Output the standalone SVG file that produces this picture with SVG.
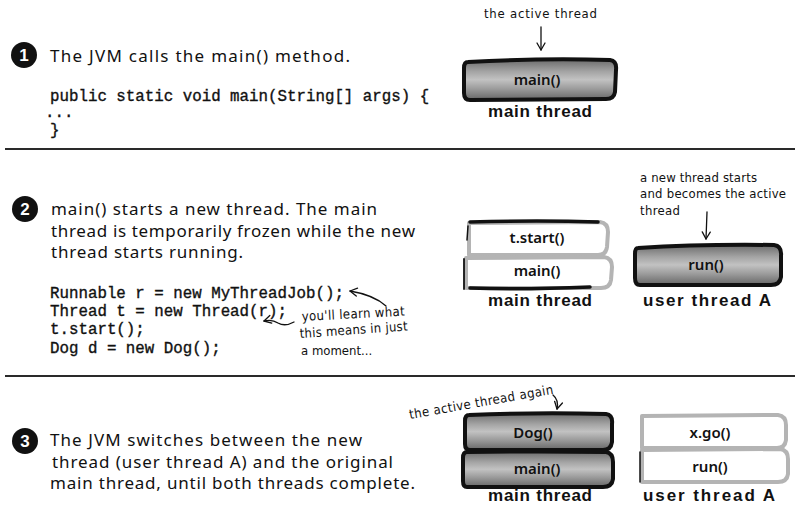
<svg xmlns="http://www.w3.org/2000/svg" width="798" height="516" viewBox="0 0 798 516">
<style>
.body{font-family:"Noto Sans","Open Sans",sans-serif;font-size:17px;fill:#111}
.code{font-family:"Liberation Mono","Courier New",monospace;font-size:15.8px;fill:#111;stroke:#111;stroke-width:0.35}
.note{font-family:"Liberation Sans Narrow","DejaVu Sans Condensed","Liberation Sans",sans-serif;font-size:13px;fill:#111}
.cap{font-family:"Liberation Sans",Arial,sans-serif;font-weight:bold;font-size:17px;fill:#111;text-anchor:middle}
.lbl{font-family:"Noto Sans","Open Sans",sans-serif;font-size:15px;font-weight:600;fill:#111;text-anchor:middle}
.num{font-family:"Liberation Sans",Arial,sans-serif;font-weight:bold;font-size:17px;fill:#fff;text-anchor:middle}
.gbox{fill:url(#gray);stroke:#111;stroke-width:4;stroke-linejoin:round}
.wbox{fill:#fff;stroke:#b4b4b4;stroke-width:4;stroke-linejoin:round}
.ink{fill:none;stroke:#111;stroke-linecap:round}
.arrow{fill:none;stroke:#111;stroke-width:1.3;stroke-linecap:round}
.sep{stroke:#2a2a2a;stroke-width:2}
</style>
<defs>
<linearGradient id="gray" x1="0" y1="0" x2="0" y2="1">
<stop offset="0" stop-color="#6a6a6a"/>
<stop offset="0.3" stop-color="#a4a4a4"/>
<stop offset="0.5" stop-color="#c2c2c2"/>
<stop offset="0.72" stop-color="#9c9c9c"/>
<stop offset="1" stop-color="#666"/>
</linearGradient>
<marker id="head" markerWidth="10" markerHeight="10" refX="8" refY="5" orient="auto" markerUnits="userSpaceOnUse">
<path d="M1,1 L8,5 L1,9" fill="none" stroke="#111" stroke-width="1.3" stroke-linecap="round" stroke-linejoin="round"/>
</marker>
</defs>

<!-- separators -->
<g id="separators">
<line class="sep" x1="5" y1="149" x2="795" y2="149"/>
<line class="sep" x1="5" y1="376" x2="795" y2="376"/>
</g>

<!-- Step 1 -->
<g id="step1-text">
<circle cx="24" cy="55" r="13" fill="#111"/>
<text class="num" x="24" y="61">1</text>
<text class="body" x="50" y="62" textLength="300" lengthAdjust="spacing">The JVM calls the main() method.</text>
<text class="code" x="50" y="101" font-size="16">public static void main(String[] args) {</text>
<text class="code" x="45" y="117">...</text>
<text class="code" x="50" y="135">}</text>
</g>
<g id="s1-main-thread">
<path class="gbox" d="M468,62 Q540,58 610,60 Q617,61 616,70 L615,92 Q614,99 606,99 L470,100 Q464,100 464,93 L464,68 Q464,62 468,62 Z"/>
<text class="lbl" x="537" y="85">main()</text>
<text class="cap" x="540" y="117" textLength="104" lengthAdjust="spacing">main thread</text>
</g>
<g id="s1-note">
<text class="note" x="484" y="18" textLength="113" lengthAdjust="spacing">the active thread</text>
</g>

<!-- Step 2 -->
<g id="step2-text">
<circle cx="25" cy="209" r="13" fill="#111"/>
<text class="num" x="25" y="215">2</text>
<text class="body" x="51" y="215" textLength="326" lengthAdjust="spacing">main() starts a new thread. The main</text>
<text class="body" x="51" y="237" textLength="364" lengthAdjust="spacing">thread is temporarily frozen while the new</text>
<text class="body" x="51" y="258" textLength="192" lengthAdjust="spacing">thread starts running.</text>
<text class="code" x="50" y="298">Runnable r = new MyThreadJob();</text>
<text class="code" x="50" y="316">Thread t = new Thread(r);</text>
<text class="code" x="50" y="334">t.start();</text>
<text class="code" x="50" y="353">Dog d = new Dog();</text>
</g>
<g id="s2-note">
<text class="note" x="302" y="321" textLength="103" lengthAdjust="spacing" transform="rotate(-3 302 321)">you'll learn what</text>
<text class="note" x="300" y="338" textLength="108" lengthAdjust="spacing" transform="rotate(-4 300 338)">this means in just</text>
<text class="note" x="301" y="355" font-size="12">a moment...</text>
</g>
<g id="s2-main-thread">
<path class="wbox" d="M469,223 L600,222 Q608,223 608,232 L607,247 Q606,255 598,255 L469,255 Z"/>
<path class="ink" stroke-width="3.5" d="M470,222 Q540,220 598,222"/>
<path class="ink" stroke-width="1.5" d="M468,226 L467,240"/>
<text class="lbl" x="537" y="243">t.start()</text>
<path class="wbox" d="M466,258 L604,257 Q612,258 612,267 L611,280 Q610,288 601,288 L466,288 Z"/>
<path class="ink" stroke-width="1.8" d="M464,259 L464,289"/>
<path class="ink" stroke-width="3.5" d="M470,288 Q520,290 590,287"/>
<text class="lbl" x="537" y="276">main()</text>
<text class="cap" x="540" y="306" textLength="104" lengthAdjust="spacing">main thread</text>
</g>
<g id="s2-user-thread">
<path class="gbox" d="M638,248 Q700,244 774,245 Q782,246 781,256 L781,277 Q780,285 771,285 L640,285 Q635,285 635,278 L635,254 Q635,248 638,248 Z"/>
<text class="lbl" x="706" y="270">run()</text>
<text class="cap" x="707" y="306" textLength="128" lengthAdjust="spacing">user thread A</text>
</g>
<g id="s2-run-note">
<text class="note" x="640" y="182" textLength="117" lengthAdjust="spacing">a new thread starts</text>
<text class="note" x="640" y="198" textLength="146" lengthAdjust="spacing">and becomes the active</text>
<text class="note" x="640" y="215" textLength="40" lengthAdjust="spacing">thread</text>
</g>

<!-- Step 3 -->
<g id="step3-text">
<circle cx="25" cy="441" r="13" fill="#111"/>
<text class="num" x="25" y="447">3</text>
<text class="body" x="50" y="446" textLength="312" lengthAdjust="spacing">The JVM switches between the new</text>
<text class="body" x="52" y="468" textLength="341" lengthAdjust="spacing">thread (user thread A) and the original</text>
<text class="body" x="50" y="489" textLength="365" lengthAdjust="spacing">main thread, until both threads complete.</text>
</g>
<g id="s3-main-thread">
<path class="gbox" d="M469,415 Q540,412 606,414 Q613,415 612,424 L612,442 Q611,450 603,450 L470,450 Q465,450 465,444 L465,421 Q465,415 469,415 Z"/>
<text class="lbl" x="533" y="438">Dog()</text>
<path class="gbox" d="M467,452 Q540,451 606,452 Q613,453 613,462 L613,479 Q612,487 603,487 L467,487 Q463,487 463,481 L463,458 Q463,452 467,452 Z"/>
<text class="lbl" x="537" y="474">main()</text>
<text class="cap" x="540" y="501" textLength="104" lengthAdjust="spacing">main thread</text>
</g>
<g id="s3-user-thread">
<path class="wbox" d="M642,416 L778,415 Q786,416 786,425 L786,440 Q785,448 777,448 L642,448 Z"/>
<text class="lbl" x="710" y="438">x.go()</text>
<path class="wbox" d="M642,450 L780,449 Q788,450 788,459 L788,474 Q787,482 778,482 L642,482 Z"/>
<path class="ink" stroke-width="1.5" d="M640,452 L640,482"/>
<text class="lbl" x="710" y="472">run()</text>
<text class="cap" x="709" y="501" textLength="132" lengthAdjust="spacing">user thread A</text>
</g>
<g id="s3-note">
<text class="note" x="410" y="419" textLength="146" lengthAdjust="spacing" transform="rotate(-10 410 419)">the active thread again</text>
</g>

<!-- connectors -->
<g id="connectors">
<path class="arrow" marker-end="url(#head)" d="M541,27 L541,50"/>
<path class="arrow" marker-end="url(#head)" d="M707,212 L706,239"/>
<path class="arrow" marker-end="url(#head)" d="M386,306 Q374,295 350,291"/>
<path class="arrow" marker-end="url(#head)" d="M294,322 Q285,327 278,323 Q272,319 264,321"/>
<path class="arrow" marker-end="url(#head)" d="M553,395 Q559,400 557,409"/>
</g>
</svg>
